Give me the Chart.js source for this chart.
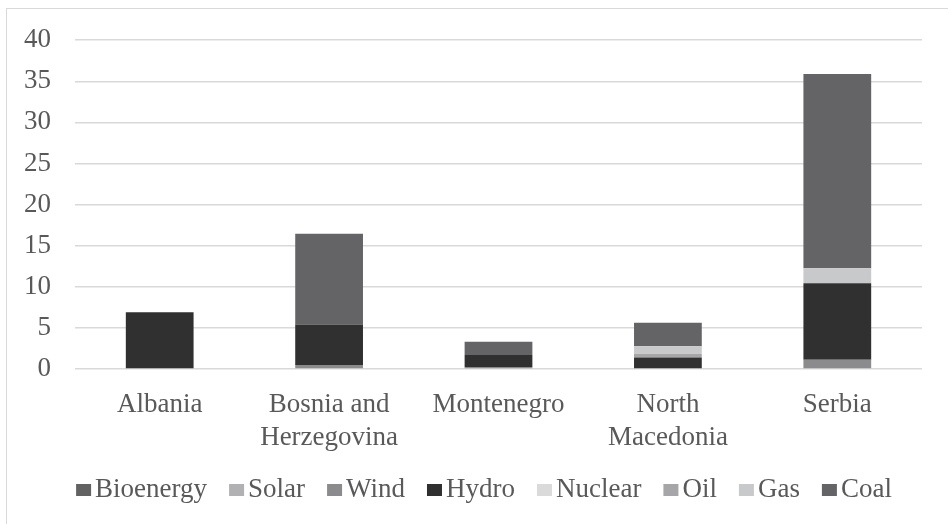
<!DOCTYPE html>
<html>
<head>
<meta charset="utf-8">
<script src="https://cdn.jsdelivr.net/npm/chart.js@4.4.1/dist/chart.umd.min.js"></script>
<style>
    html, body {
        margin: 0;
        padding: 0;
        background: #ffffff;
        overflow: hidden;
    }
    #frame {
        position: absolute;
        left: 6px;
        top: 8px;
        width: 1000px;
        height: 600px;
        border: 1.5px solid #d9d9d9;
    }
    #wrap {
        position: absolute;
        left: 0;
        top: 0;
        width: 948px;
        height: 524px;
    }
</style>
</head>
<body>
<div id="frame"></div>
<div id="wrap"><canvas id="mixChart" width="948" height="524"></canvas></div>
<script>
const countries = ["Albania", ["Bosnia and", "Herzegovina"], "Montenegro", ["North", "Macedonia"], "Serbia"];

const bioenergy = [0, 0, 0, 0, 0];
const solar = [0, 0, 0, 0, 0];
const wind = [0, 0.5, 0.25, 0, 1.13];
const hydro = [6.9, 4.9, 1.45, 1.4, 9.3];
const nuclear = [0, 0, 0, 0, 0];
const oil = [0, 0, 0, 0.45, 0];
const gas = [0, 0, 0, 0.93, 1.82];
const coal = [0, 11.05, 1.6, 2.86, 23.63];

const yTicks = [0, 5, 10, 15, 20, 25, 30, 35, 40];

const textColor = "#595959";
const fontFamily = "'Liberation Serif', 'Times New Roman', serif";

const datasets = [
    { label: "Bioenergy", data: bioenergy, backgroundColor: "#626262" },
    { label: "Solar", data: solar, backgroundColor: "#b1b1b3" },
    { label: "Wind", data: wind, backgroundColor: "#8b8b8d" },
    { label: "Hydro", data: hydro, backgroundColor: "#313031" },
    { label: "Nuclear", data: nuclear, backgroundColor: "#dadada" },
    { label: "Oil", data: oil, backgroundColor: "#a6a6a8" },
    { label: "Gas", data: gas, backgroundColor: "#c8c9ca" },
    { label: "Coal", data: coal, backgroundColor: "#646466" }
];

// legend drawn by hand so the swatch sits right next to its label
const bottomLegend = {
    id: "bottomLegend",
    afterDraw(chart) {
        const ctx = chart.ctx;
        const box = 15;
        const boxGap = 4;
        const itemGap = 22;
        const centerX = 484;
        const midY = 490;

        ctx.save();
        ctx.font = `27px ${fontFamily}`;
        ctx.textBaseline = "middle";
        ctx.textAlign = "left";

        const items = chart.data.datasets.map(ds => ({
            text: ds.label,
            color: ds.backgroundColor,
            width: box + boxGap + ctx.measureText(ds.label).width
        }));

        const total = items.reduce((sum, item) => sum + item.width, 0) +
            itemGap * (items.length - 1);

        let x = centerX - total / 2;

        items.forEach(item => {
            ctx.fillStyle = item.color;
            ctx.fillRect(x, midY - 6, box, 12);
            ctx.fillStyle = textColor;
            ctx.fillText(item.text, x + box + boxGap, midY);
            x += item.width + itemGap;
        });

        ctx.restore();
    }
};

new Chart(
    document.getElementById("mixChart"),
    {
        type: "bar",
        data: {
            labels: countries,
            datasets: datasets.map(ds => ({
                ...ds,
                borderWidth: 0,
                categoryPercentage: 1,
                barPercentage: 0.4
            }))
        },
        options: {
            responsive: false,
            animation: false,
            layout: {
                padding: { left: 0, right: 26, top: 35, bottom: 0 }
            },
            scales: {
                x: {
                    stacked: true,
                    grid: { display: false },
                    border: { display: false },
                    ticks: {
                        color: textColor,
                        font: { family: fontFamily, size: 27, lineHeight: 1.22 },
                        padding: 11,
                        maxRotation: 0,
                        autoSkip: false
                    },
                    afterFit: (scale) => {
                        scale.height = 155;
                    }
                },
                y: {
                    stacked: true,
                    min: 0,
                    max: 40,
                    afterBuildTicks: (scale) => {
                        scale.ticks = yTicks.map(v => ({ value: v }));
                    },
                    grid: {
                        color: "#d9d9d9",
                        lineWidth: 1.5,
                        drawTicks: false
                    },
                    border: { display: false },
                    ticks: {
                        color: textColor,
                        font: { family: fontFamily, size: 27 },
                        padding: 24
                    },
                    afterFit: (scale) => {
                        scale.width = 75;
                    }
                }
            },
            plugins: {
                legend: { display: false },
                tooltip: { enabled: false }
            }
        },
        plugins: [bottomLegend]
    }
);
</script>
</body>
</html>
